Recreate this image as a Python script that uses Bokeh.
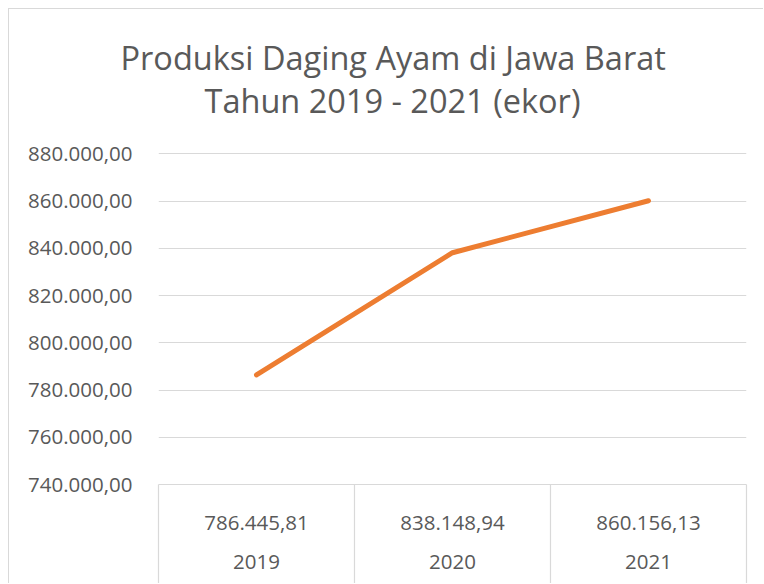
from bokeh.plotting import figure
from bokeh.models import (Range1d, FixedTicker, LinearAxis, Title, ColumnDataSource)
from bokeh.embed import file_html
from bokeh.resources import INLINE

# ---- data ----
years = ["2019", "2020", "2021"]
produksi = [786445.81, 838148.94, 860156.13]
y_ticks = [740000, 760000, 780000, 800000, 820000, 840000, 860000, 880000]
title_line1 = "Produksi Daging Ayam di Jawa Barat"
title_line2 = "Tahun 2019 - 2021 (ekor)"


def fmt_id(v):
    s = f"{v:,.2f}"
    return s.replace(",", "X").replace(".", ",").replace("X", ".")


FONT = "Open Sans"
TXT = "#595959"
GRID = "#D9D9D9"

xpos = [i + 0.5 for i in range(len(years))]

p = figure(width=755, height=575, output_backend="svg", toolbar_location=None,
           x_axis_type=None,
           x_range=Range1d(0, len(years)), y_range=Range1d(740000, 880600),
           min_border_left=149, min_border_right=18, min_border_top=143,
           min_border_bottom=100)
p.styles = {"margin-left": "8px", "margin-top": "8px",
            "border-left": "1px solid #D9D9D9", "border-top": "1px solid #D9D9D9"}
p.outline_line_color = None
p.background_fill_color = "white"
p.border_fill_color = "white"

# titles
p.add_layout(Title(text=title_line2, align="left", text_font=FONT,
                   text_font_size="32.5px", text_font_style="normal",
                   text_color=TXT, standoff=60, offset=46), "above")
p.add_layout(Title(text=title_line1, align="left", text_font=FONT,
                   text_font_size="32.5px", text_font_style="normal",
                   text_color=TXT, standoff=-68, offset=-38), "above")

# y axis
ya = p.yaxis[0]
ya.ticker = FixedTicker(ticks=y_ticks)
ya.major_label_overrides = {t: fmt_id(t) for t in y_ticks}
ya.axis_line_color = None
ya.major_tick_line_color = None
ya.minor_tick_line_color = None
ya.major_label_text_font = FONT
ya.major_label_text_font_size = "20.5px"
ya.major_label_text_color = TXT
ya.major_label_standoff = 20

p.ygrid.ticker = FixedTicker(ticks=y_ticks)
p.ygrid.grid_line_color = GRID
p.ygrid.grid_line_width = 1.2

# data table axes
ax_vals = LinearAxis(ticker=FixedTicker(ticks=xpos, minor_ticks=list(range(len(years) + 1))),
                     major_label_overrides={x: fmt_id(v) for x, v in zip(xpos, produksi)})
ax_vals.axis_line_color = GRID
ax_vals.axis_line_width = 1.2
ax_vals.major_tick_line_color = None
ax_vals.minor_tick_line_color = GRID
ax_vals.minor_tick_line_width = 1.2
ax_vals.minor_tick_in = 0
ax_vals.minor_tick_out = 110
ax_vals.major_tick_out = 0
ax_vals.major_tick_in = 0
ax_vals.major_label_standoff = -79
ax_vals.major_label_text_font = FONT
ax_vals.major_label_text_font_size = "20.5px"
ax_vals.major_label_text_color = TXT
p.add_layout(ax_vals, "below")

ax_years = LinearAxis(ticker=FixedTicker(ticks=xpos),
                      major_label_overrides={x: y for x, y in zip(xpos, years)})
ax_years.axis_line_color = None
ax_years.major_tick_line_color = None
ax_years.minor_tick_line_color = None
ax_years.major_tick_out = 0
ax_years.major_tick_in = 0
ax_years.major_label_standoff = 22
ax_years.major_label_text_font = FONT
ax_years.major_label_text_font_size = "20.5px"
ax_years.major_label_text_color = TXT
p.add_layout(ax_years, "below")

src = ColumnDataSource(dict(x=xpos, y=produksi))
p.line("x", "y", source=src, line_color="#ED7D31", line_width=5, line_cap="round",
       line_join="round")

open("out.html", "w").write(file_html(p, INLINE))
